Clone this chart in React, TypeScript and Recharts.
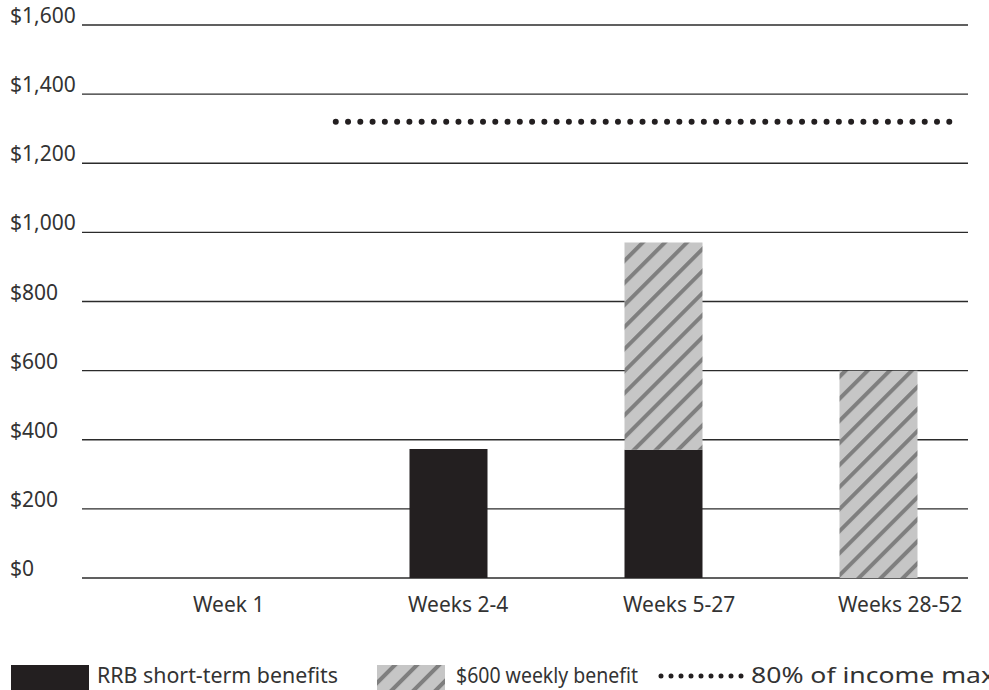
import {
    BarChart,
    Bar,
    XAxis,
    YAxis,
    CartesianGrid,
    ReferenceLine,
} from "recharts";

const categories = ["Week 1", "Weeks 2-4", "Weeks 5-27", "Weeks 28-52"];
const rrbBenefits = [0, 373, 371, 0];
const weeklyBenefit = [0, 0, 600, 600];
const yTicks = [0, 200, 400, 600, 800, 1000, 1200, 1400, 1600];
// 80% of income max, drawn across part of the x range (in category units)
const incomeMax = 1320;
const incomeMaxSpan = [0.978, 3.832];

const data = categories.map((name, i) => ({
    name,
    rrb: rrbBenefits[i],
    weekly: weeklyBenefit[i],
}));

const FONT = "'Noto Sans', sans-serif";
const TEXT = "#333";
const BAR_W = 78;

const money = (v: number) => "$" + v.toLocaleString("en-US");

const YTick = ({ y, payload }: any) => (
    <text x={10} y={y - 2} fill={TEXT} fontSize={21} fontFamily={FONT} textAnchor="start">
        {money(payload.value)}
    </text>
);

const XTick = ({ x, y, payload }: any) => (
    <text x={x - BAR_W / 2 - 1} y={y + 34} fill={TEXT} fontSize={21} fontFamily={FONT} textAnchor="start">
        {payload.value}
    </text>
);

const gridLine = (props: any) => (
    <line key={props.key} x1={82} x2={968} y1={props.y1} y2={props.y2} stroke="#2b2b2b" strokeWidth={1.3} />
);

// dotted line over a part of the plot width, in category units
const IncomeMaxLine = (props: any) => {
    const { x1, x2, y1 } = props;
    const unit = (x2 - x1) / categories.length;
    return (
        <line
            x1={x1 + unit * incomeMaxSpan[0]}
            x2={x1 + unit * incomeMaxSpan[1]}
            y1={y1}
            y2={y1}
            stroke="#231f20"
            strokeWidth={6}
            strokeDasharray="0 12.27"
            strokeLinecap="round"
        />
    );
};

const Hatch = ({ id }: { id: string }) => (
    <pattern id={id} patternUnits="userSpaceOnUse" width={15.6} height={15.6} patternTransform="rotate(45)">
        <rect width={15.6} height={15.6} fill="#c6c6c6" />
        <rect width={4} height={15.6} fill="#7f7f7f" />
    </pattern>
);

const Legend = () => (
    <svg width={989} height={30} style={{ position: "absolute", left: 0, top: 660, overflow: "hidden" }}>
        <defs>
            <Hatch id="hatchLegend" />
        </defs>
        <rect x={11} y={5} width={78} height={26} fill="#231f20" />
        <text x={97} y={23} fill={TEXT} fontSize={21} fontFamily={FONT} textLength={241} lengthAdjust="spacingAndGlyphs">
            RRB short-term benefits
        </text>
        <rect x={377} y={5} width={68} height={26} fill="url(#hatchLegend)" />
        <text x={456} y={23} fill={TEXT} fontSize={21} fontFamily={FONT} textLength={182} lengthAdjust="spacingAndGlyphs">
            $600 weekly benefit
        </text>
        <line x1={661} x2={742} y1={16} y2={16} stroke="#231f20" strokeWidth={5} strokeDasharray="0 10" strokeLinecap="round" />
        <text x={751} y={23} fill={TEXT} fontSize={21} fontFamily={FONT} textLength={244} lengthAdjust="spacingAndGlyphs">
            80% of income max
        </text>
    </svg>
);

export default function App() {
    return (
        <div style={{ position: "absolute", left: 0, top: 0, width: 989, height: 690, background: "#fff", overflow: "hidden" }}>
            <BarChart
                width={989}
                height={660}
                data={data}
                margin={{ top: 25, right: 3.5, left: 0, bottom: 52 }}
                barSize={BAR_W}
            >
                <defs>
                    <Hatch id="hatchBar" />
                </defs>
                <CartesianGrid vertical={false} horizontal={gridLine} />
                <XAxis
                    dataKey="name"
                    axisLine={false}
                    tickLine={false}
                    tickSize={0}
                    tickMargin={0}
                    height={30}
                    interval={0}
                    tick={<XTick />}
                />
                <YAxis
                    width={125.5}
                    domain={[0, 1600]}
                    ticks={yTicks}
                    interval={0}
                    axisLine={false}
                    tickLine={false}
                    tickSize={0}
                    tick={<YTick />}
                />
                <Bar dataKey="rrb" stackId="a" fill="#231f20" isAnimationActive={false} />
                <Bar dataKey="weekly" stackId="a" fill="url(#hatchBar)" isAnimationActive={false} />
                <ReferenceLine y={incomeMax} shape={IncomeMaxLine} />
            </BarChart>
            <Legend />
        </div>
    );
}
